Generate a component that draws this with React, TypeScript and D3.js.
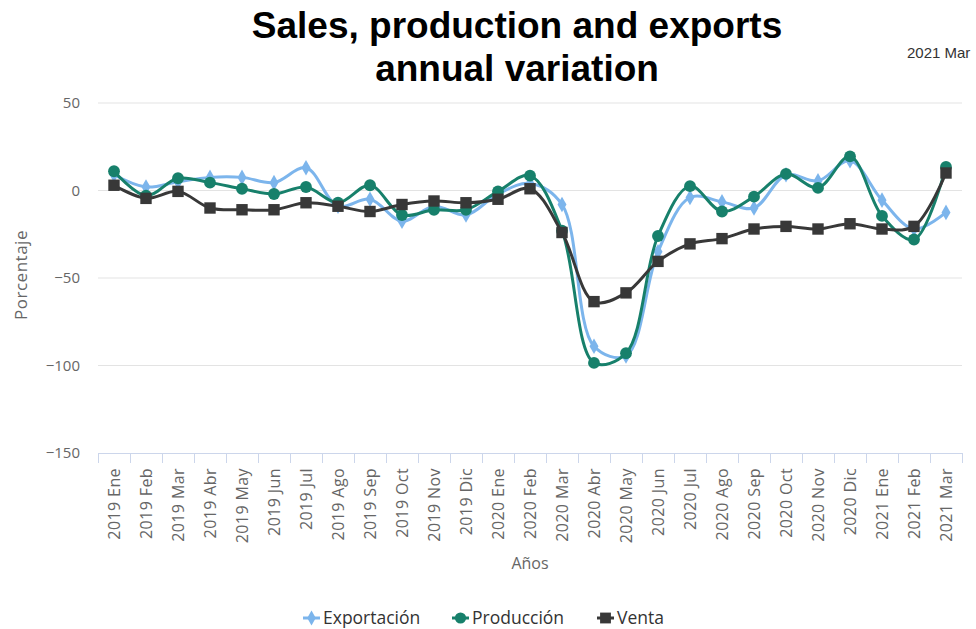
import { useEffect, useRef } from "react"
import * as d3 from "d3"

const months = ["Ene", "Feb", "Mar", "Abr", "May", "Jun", "Jul", "Ago", "Sep", "Oct", "Nov", "Dic"]
const categories = [
	...months.map((m) => "2019 " + m),
	...months.map((m) => "2020 " + m),
	"2021 Ene", "2021 Feb", "2021 Mar",
]

const exportacion = [9, 2, 5, 7.5, 7.5, 4.5, 13, -9, -5, -17.5, -9, -14, -2, 4, -8, -89, -94.5, -35, -4, -6.5, -10, 9, 5.5, 17, -5.5, -22, -12.5]
const produccion = [11, -3, 7, 4.5, 1, -2, 2, -7, 3, -14, -11, -11, -0.5, 8.5, -23, -98.5, -93, -26, 2.5, -12, -3.5, 9.5, 1.5, 19.5, -14.5, -28, 13.5]
const venta = [3, -4.5, -0.5, -10, -11, -11, -7, -9, -12, -8, -6, -7, -5, 1, -24, -63.5, -58.5, -40.5, -30.5, -27.5, -22, -20.5, -22, -19, -22, -20.5, 10]

const yTicks = [50, 0, -50, -100, -150]

const App = () => {
	const svgRef = useRef(null)

	useEffect(() => {
		const svg = d3.select(svgRef.current)
		svg.selectAll("*").remove()

		const width = 976
		const height = 629
		const left = 98
		const right = 962
		const top = 103
		const bottom = 453

		svg.attr("width", width).attr("height", height)

		const x = d3.scaleBand().domain(categories).range([left, right])
		const y = d3.scaleLinear().domain([-150, 50]).range([bottom, top])
		const cx = (c: string) => (x(c) as number) + x.bandwidth() / 2

		// title
		const title = svg.append("text")
			.attr("text-anchor", "middle")
			.style("font-family", "'Liberation Sans', Arial, sans-serif")
			.style("font-weight", "bold")
			.style("font-size", "37px")
			.attr("fill", "#000")
		title.append("tspan").attr("x", 517).attr("y", 38).text("Sales, production and exports")
		title.append("tspan").attr("x", 517).attr("y", 81).text("annual variation")

		svg.append("text")
			.attr("x", 907)
			.attr("y", 58)
			.style("font-family", "'Liberation Sans', Arial, sans-serif")
			.style("font-size", "15px")
			.attr("fill", "#333")
			.text("2021 Mar")

		// grid
		svg.append("g")
			.selectAll("line")
			.data(yTicks.filter((t) => t !== -150))
			.enter()
			.append("line")
			.attr("x1", left)
			.attr("x2", right)
			.attr("y1", (d) => y(d))
			.attr("y2", (d) => y(d))
			.attr("stroke", "#e3e3e3")
			.attr("stroke-width", 1)

		const font = "'Open Sans', 'Noto Sans', sans-serif"

		// y labels
		svg.append("g")
			.selectAll("text")
			.data(yTicks)
			.enter()
			.append("text")
			.attr("x", 80)
			.attr("y", (d) => y(d) + 5)
			.attr("text-anchor", "end")
			.style("font-family", font)
			.style("font-size", "15px")
			.attr("fill", "#666")
			.text((d) => (d < 0 ? "\u2212" + Math.abs(d) : String(d)))

		svg.append("text")
			.attr("transform", "translate(27,275) rotate(-90)")
			.attr("text-anchor", "middle")
			.style("font-family", font)
			.style("font-size", "17px")
			.style("letter-spacing", "0.5px")
			.attr("fill", "#666")
			.text("Porcentaje")

		// x axis
		svg.append("line")
			.attr("x1", left)
			.attr("x2", right)
			.attr("y1", bottom + 0.5)
			.attr("y2", bottom + 0.5)
			.attr("stroke", "#ccd6eb")
		svg.append("g")
			.selectAll("line")
			.data([...categories.map((c) => x(c) as number), right])
			.enter()
			.append("line")
			.attr("x1", (d) => Math.round(d) + 0.5)
			.attr("x2", (d) => Math.round(d) + 0.5)
			.attr("y1", bottom)
			.attr("y2", bottom + 10)
			.attr("stroke", "#ccd6eb")

		svg.append("g")
			.selectAll("text")
			.data(categories)
			.enter()
			.append("text")
			.attr("transform", (d) => "translate(" + (cx(d) + 6) + "," + (bottom + 15) + ") rotate(-90)")
			.attr("text-anchor", "end")
			.style("font-family", font)
			.style("font-size", "16px")
			.style("letter-spacing", "0.4px")
			.attr("fill", "#666")
			.text((d) => d)

		svg.append("text")
			.attr("x", 530)
			.attr("y", 569)
			.attr("text-anchor", "middle")
			.style("font-family", font)
			.style("font-size", "16px")
			.attr("fill", "#666")
			.text("Años")

		const series = [
			{ name: "Exportación", values: exportacion, color: "#7cb5ec", symbol: d3.symbolDiamond, size: 70 },
			{ name: "Producción", values: produccion, color: "#17806b", symbol: d3.symbolCircle, size: 110 },
			{ name: "Venta", values: venta, color: "#383838", symbol: d3.symbolSquare, size: 130 },
		]

		const line = d3.line<number>()
			.x((_, i) => cx(categories[i]))
			.y((d) => y(d))
			.curve(d3.curveCatmullRom.alpha(0.5))

		series.forEach((s) => {
			const g = svg.append("g")
			g.append("path")
				.attr("d", line(s.values))
				.attr("fill", "none")
				.attr("stroke", s.color)
				.attr("stroke-width", 3)
			g.selectAll("path.pt")
				.data(s.values)
				.enter()
				.append("path")
				.attr("class", "pt")
				.attr("d", d3.symbol().type(s.symbol).size(s.size)())
				.attr("transform", (d, i) => "translate(" + cx(categories[i]) + "," + y(d) + ")")
				.attr("fill", s.color)
		})

		// legend
		const legendX = [303, 452, 597]
		series.forEach((s, i) => {
			const g = svg.append("g").attr("transform", "translate(" + legendX[i] + ",618)")
			g.append("line").attr("x1", 0).attr("x2", 17).attr("stroke", s.color).attr("stroke-width", 3)
			g.append("path")
				.attr("d", d3.symbol().type(s.symbol).size(s.size * 0.9)())
				.attr("transform", "translate(8.5,0)")
				.attr("fill", s.color)
			g.append("text")
				.attr("x", 20)
				.attr("y", 6)
				.style("font-family", font)
				.style("font-size", "17.5px")
				.attr("fill", "#333")
				.text(s.name)
		})
	}, [])

	return <svg ref={svgRef} style={{ display: "block", position: "absolute", left: 0, top: 0 }}></svg>
}

export default App
